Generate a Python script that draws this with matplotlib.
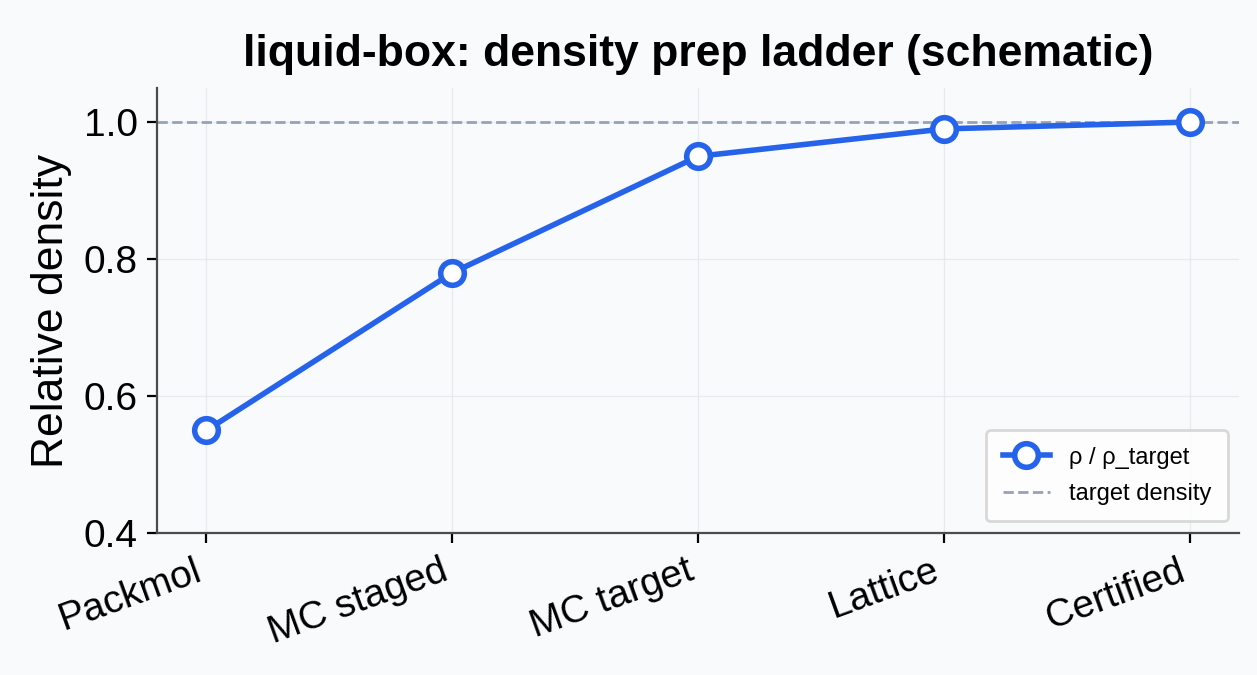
import matplotlib
matplotlib.use("Agg")
import matplotlib.pyplot as plt

stages = ["Packmol", "MC staged", "MC target", "Lattice", "Certified"]
rel_density = [0.55, 0.78, 0.95, 0.99, 1.00]
target = 1.0

plt.rcParams["font.family"] = ["Liberation Sans", "DejaVu Sans"]

bg = "#f8fafc"
fig, ax = plt.subplots(figsize=(6.285, 3.375), dpi=200)
fig.patch.set_facecolor(bg)
ax.set_facecolor(bg)

x = list(range(len(stages)))
ax.plot(x, rel_density, color="#2563eb", lw=2, marker="o", ms=8.5,
        markerfacecolor="white", markeredgewidth=2, label="ρ / ρ_target", zorder=3)
ax.axhline(target, color="#94a3b8", ls="--", lw=1, label="target density", zorder=2)

ax.set_ylim(0.4, 1.05)
ax.set_yticks([0.4, 0.6, 0.8, 1.0])
ax.set_xticks(x)
ax.set_xticklabels(stages, rotation=20, ha="right", fontsize=14)
ax.tick_params(axis="y", labelsize=14)
ax.grid(True, color="#e5e7eb", lw=0.5, alpha=0.8)
ax.set_axisbelow(True)

for s in ["top", "right"]:
    ax.spines[s].set_visible(False)
for s in ["left", "bottom"]:
    ax.spines[s].set_color("#4b4b4b")

ax.set_ylabel("Relative density", fontsize=16)
ax.set_title("liquid-box: density prep ladder (schematic)", fontsize=16, fontweight="bold",
             pad=8)
ax.legend(loc="lower right", fontsize=8.5, facecolor="white", edgecolor="#d0d0d0",
          borderpad=0.7, labelspacing=0.6)

plt.subplots_adjust(left=0.125, right=0.986, top=0.87, bottom=0.21)
fig.savefig("out.png", facecolor=bg)
